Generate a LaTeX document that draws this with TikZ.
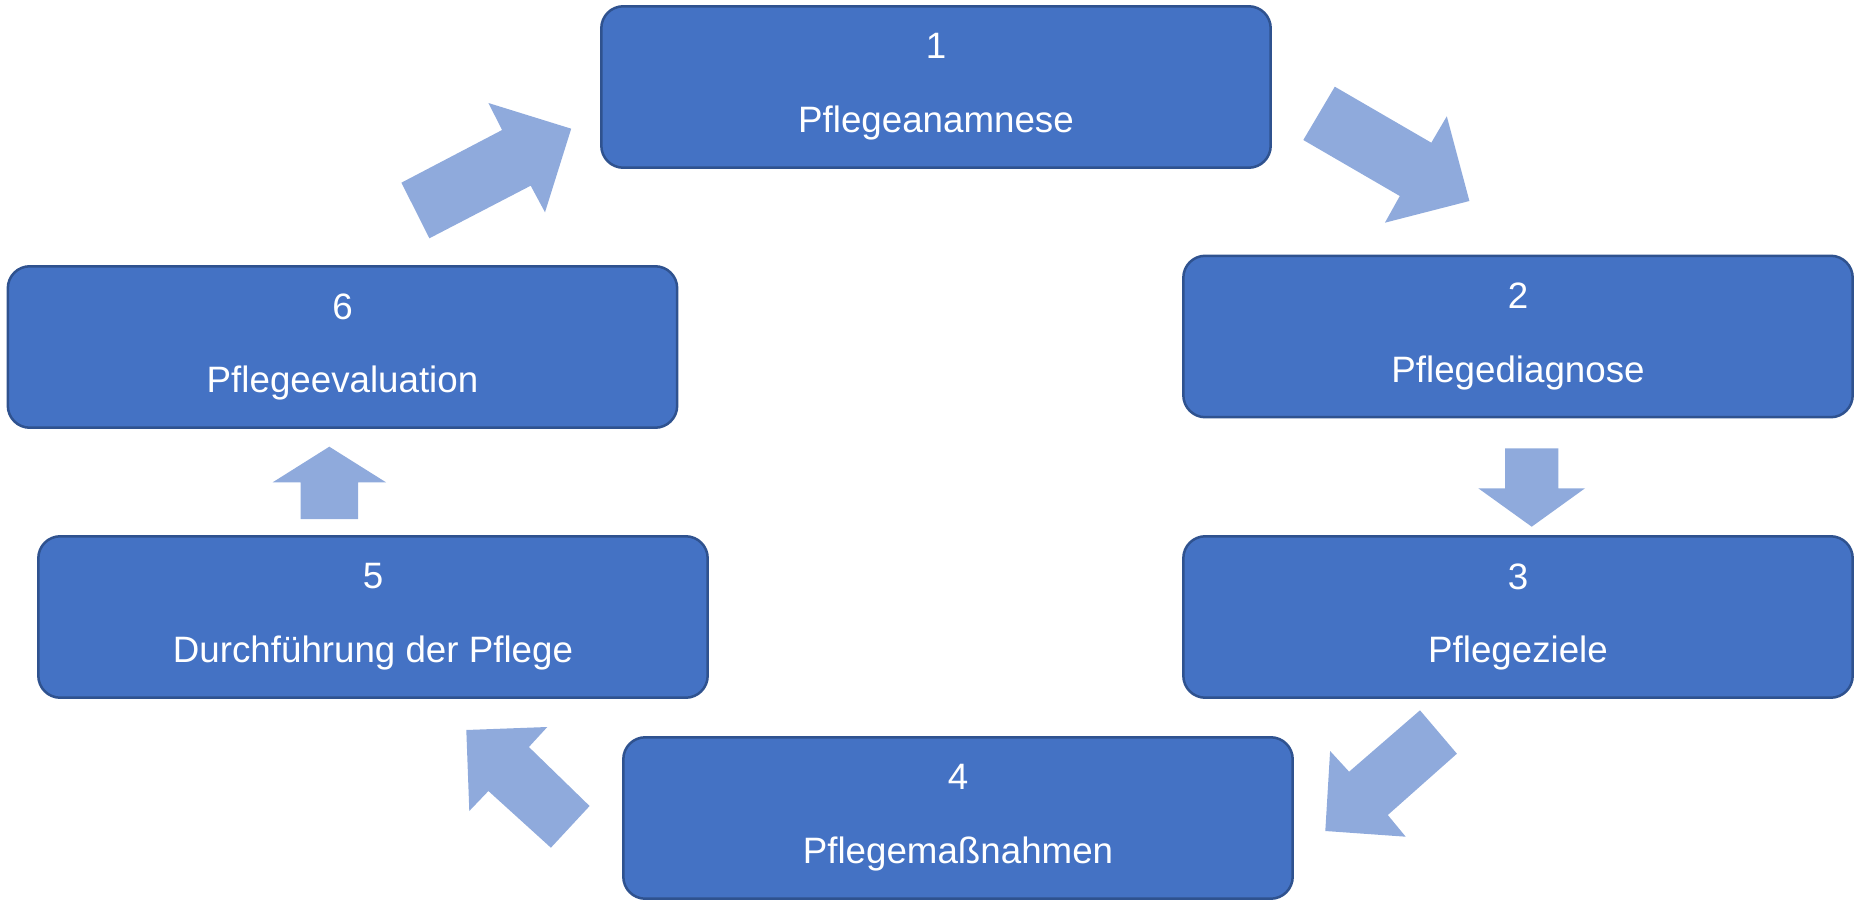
\documentclass[tikz,border=0pt]{standalone}
\usepackage{fontspec}
\setmainfont{Liberation Sans}
\definecolor{boxblue}{HTML}{4472C4}
\definecolor{boxline}{HTML}{2F528F}
\definecolor{arrowblue}{HTML}{8FAADC}
\begin{document}
\begin{tikzpicture}[x=0.02cm, y=-0.02cm,
    stage/.style={rectangle, rounded corners=0.44cm, draw=boxline, line width=0.05cm,
        fill=boxblue, minimum width=13.39cm, minimum height=3.23cm, inner sep=0pt,
        align=center, text=white, font=\fontsize{20.9}{42.1}\selectfont},
    flow/.style={fill=arrowblue}
]
    \useasboundingbox (0,0) rectangle (1869,902);
    \node[stage] (p1) at (936,87) {1\\Pflegeanamnese};
    \node[stage] (p2) at (1518,336.5) {2\\Pflegediagnose};
    \node[stage] (p3) at (1518,617) {3\\Pflegeziele};
    \node[stage] (p4) at (958,818) {4\\Pflegemaßnahmen};
    \node[stage] (p5) at (373,617) {5\\Durchführung der Pflege};
    \node[stage] (p6) at (342.5,347) {6\\Pflegeevaluation};
    \fill[flow] (1334.8,86.7) -- (1431.3,142.7) -- (1446.8,116.3) -- (1469.4,201)
        -- (1384.9,222.7) -- (1399.8,196) -- (1303.3,140) -- cycle;
    \fill[flow] (1505,448.3) -- (1558.3,448.3) -- (1558.3,488.3) -- (1585,488.3)
        -- (1531.7,526.7) -- (1478.3,488.3) -- (1505,488.3) -- cycle;
    \fill[flow] (1420,710.3) -- (1456.9,753.7) -- (1387.8,815) -- (1405.7,836.7)
        -- (1325.3,831) -- (1330.1,751) -- (1349.1,771.7) -- cycle;
    \fill[flow] (589.6,806) -- (550.9,847.7) -- (488.4,791) -- (469.3,811)
        -- (466.3,730) -- (547.3,727) -- (528.9,747) -- cycle;
    \fill[flow] (300.7,519) -- (300.7,482.3) -- (272.7,482.3) -- (329.3,446.7)
        -- (386,482.3) -- (358,482.3) -- (358,519) -- cycle;
    \fill[flow] (401.4,182.7) -- (502.1,130) -- (488.4,103) -- (571.2,128.7)
        -- (545,212.3) -- (530.7,185.7) -- (429.4,238.3) -- cycle;
\end{tikzpicture}
\end{document}
